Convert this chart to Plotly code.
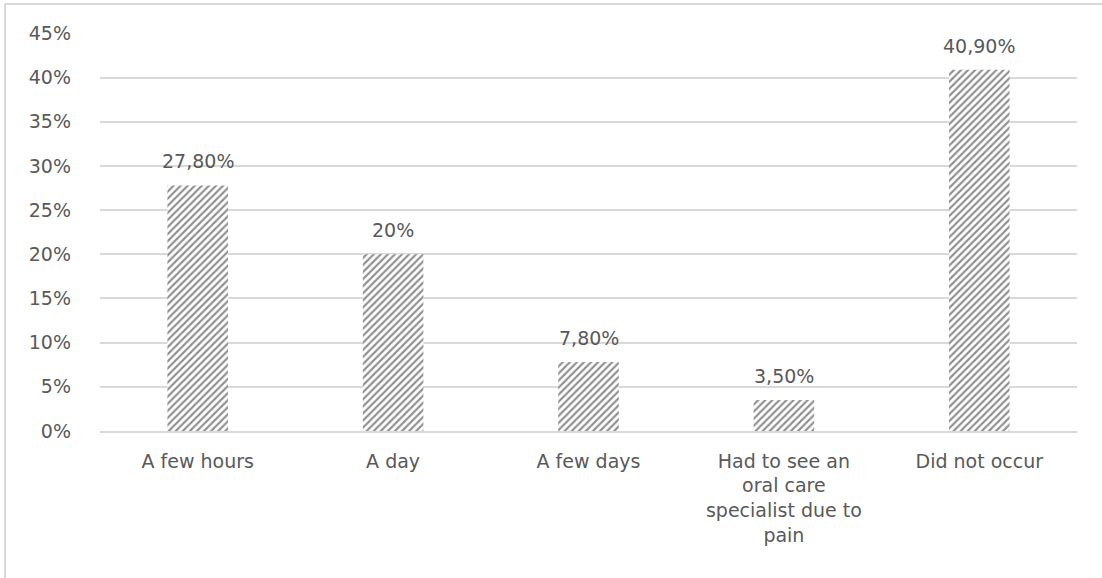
import plotly.graph_objects as go

categories = ["A few hours", "A day", "A few days",
              "Had to see an<br>oral care<br>specialist due to<br>pain", "Did not occur"]
values = [27.8, 20.0, 7.8, 3.5, 40.9]
value_labels = ["27,80%", "20%", "7,80%", "3,50%", "40,90%"]
tick_vals = [0, 5, 10, 15, 20, 25, 30, 35, 40, 45]
tick_text = ["0%", "5%", "10%", "15%", "20%", "25%", "30%", "35%", "40%", "45%"]

FONT = "DejaVu Sans, Open Sans, sans-serif"
TEXT_COLOR = "#595959"
FS = 19

W, H = 1102, 578
L, R, T, B = 100, 25, 33, 147

fig = go.Figure()
fig.add_trace(go.Bar(
    x=categories,
    y=values,
    marker=dict(
        color="white",
        line=dict(width=0),
        pattern=dict(shape="/", fgcolor="#1f1f1f", bgcolor="white",
                     size=5, solidity=0.42),
    ),
    hoverinfo="skip",
))

# value labels above each bar
for c, v, t in zip(categories, values, value_labels):
    fig.add_annotation(x=c, y=v, text=t, showarrow=False, yanchor="bottom",
                       yshift=11, font=dict(family=FONT, size=FS, color=TEXT_COLOR))

# outer frame (left and top edges)
pw = W - L - R
ph = H - T - B
fig.add_shape(type="line", xref="paper", yref="paper",
              x0=(5 - L) / pw, x1=(5 - L) / pw, y0=(T - 4) / ph + 1, y1=-(H - T - ph) / ph - 0.2,
              line=dict(color="#d9d9d9", width=2))
fig.add_shape(type="line", xref="paper", yref="paper",
              x0=(5 - L) / pw, x1=1.2, y0=(T - 4) / ph + 1, y1=(T - 4) / ph + 1,
              line=dict(color="#d9d9d9", width=2))

fig.update_layout(
    width=W, height=H,
    margin=dict(l=L, r=R, t=T, b=B, autoexpand=False),
    paper_bgcolor="white", plot_bgcolor="white",
    bargap=0.69,
    showlegend=False,
    font=dict(family=FONT, size=FS, color=TEXT_COLOR),
    xaxis=dict(showgrid=False, showline=True, linecolor="#d9d9d9", linewidth=1.5,
               ticks="", ticklabelstandoff=12,
               tickfont=dict(family=FONT, size=FS, color=TEXT_COLOR)),
    yaxis=dict(range=[0, 45.05], tickvals=tick_vals, ticktext=tick_text,
               showgrid=True, gridcolor="#d9d9d9", gridwidth=1.5,
               zeroline=False, showline=False, ticks="", ticklabelstandoff=28,
               tickfont=dict(family=FONT, size=FS, color=TEXT_COLOR)),
)

fig.write_html("out.html")
